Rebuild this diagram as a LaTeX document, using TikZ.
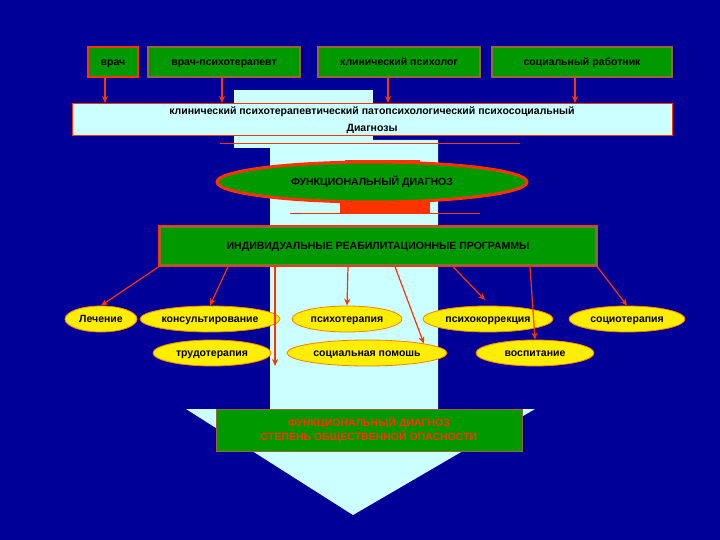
\documentclass[tikz,border=0pt]{standalone}
\usepackage{fontspec}
\setmainfont{Liberation Sans}
\usetikzlibrary{arrows.meta,shapes.geometric}
\definecolor{bg}{HTML}{000099}
\definecolor{lc}{HTML}{CCFFFF}
\definecolor{gr}{HTML}{009900}
\definecolor{rd}{HTML}{FF3300}
\definecolor{br}{HTML}{996633}
\definecolor{yl}{HTML}{FFEE00}
\newcommand{\tf}{\fontsize{10.5}{12}\selectfont\bfseries}
\begin{document}
\begin{tikzpicture}[x=1pt,y=-1pt,
 one/.style={text height=7.5pt,text depth=0pt},
 top/.style={one,draw=br,line width=1.2pt,fill=gr,font=\tf,inner sep=0pt},
 ell/.style={one,ellipse,draw=orange,fill=yl,line width=0.8pt,font=\tf,inner sep=0pt},
 arr/.style={draw=rd,line width=1.2pt,-{Stealth[length=7pt,width=6pt]}}]
\useasboundingbox (0,0) rectangle (720,540);
\fill[bg] (0,0) rectangle (720,540);
% big arrow
\fill[lc] (270,140) rectangle (438,410) (186,409) -- (535,409) -- (353,515) -- cycle;
\fill[lc] (234,90) rectangle (373,148);
% top boxes
\node[top,draw=rd,line width=2.5pt,minimum width=50pt,minimum height=30pt] (b1) at (113,62) {врач};
\node[top,minimum width=152pt,minimum height=30pt] (b2) at (224,62) {врач-психотерапевт};
\node[top,minimum width=162pt,minimum height=30pt] (b3) at (399,62) {клинический психолог};
\node[top,minimum width=180pt,minimum height=30pt] (b4) at (582,62) {социальный работник};
\node[draw=rd,fill=lc,line width=1pt,minimum width=600pt,minimum height=32pt,font=\tf,align=center,inner sep=0pt] (d) at (372,120) {клинический психотерапевтический патопсихологический психосоциальный\\[5pt]Диагнозы};
\draw[arr] (b1.south -| 105,0) -- (105,103);
\draw[arr] (b2.south -| 222,0) -- (222,103);
\draw[arr] (b3.south -| 388,0) -- (388,103);
\draw[arr] (b4.south -| 575,0) -- (575,103);
\draw[rd,line width=0.8pt] (220,143) -- (520,143);
% functional ellipse
\fill[rd] (345,160) rectangle (420,168);
\fill[rd] (340,198) rectangle (430,213);
\node[one,ellipse,draw=rd,fill=gr,line width=3pt,minimum width=310pt,minimum height=40pt,font=\tf,inner sep=0pt] (f) at (372,182) {ФУНКЦИОНАЛЬНЫЙ ДИАГНОЗ};
\draw[rd,line width=0.8pt] (290,213) -- (480,213);
% programs
\node[one,draw=br,fill=gr,line width=2.5pt,minimum width=436pt,minimum height=39pt,font=\tf,inner sep=0pt] (p) at (378,246) {ИНДИВИДУАЛЬНЫЕ РЕАБИЛИТАЦИОННЫЕ ПРОГРАММЫ};
\draw[rd,line width=0.8pt] (p.north west) rectangle (p.south east);
% ellipses
\node[ell,minimum width=72pt,minimum height=26pt] (e1) at (101,319) {Лечение};
\node[ell,minimum width=140pt,minimum height=26pt] (e2) at (210,319) {консультирование};
\node[ell,minimum width=110pt,minimum height=26pt] (e3) at (347,319) {психотерапия};
\node[ell,minimum width=130pt,minimum height=26pt] (e4) at (488,319) {психокоррекция};
\node[ell,minimum width=116pt,minimum height=26pt] (e5) at (627,319) {социотерапия};
\node[ell,minimum width=118pt,minimum height=26pt] (e6) at (212,353) {трудотерапия};
\node[ell,minimum width=160pt,minimum height=26pt] (e7) at (367,353) {социальная помошь};
\node[ell,minimum width=118pt,minimum height=26pt] (e8) at (535,353) {воспитание};
\coordinate (c1) at (275,366);
\coordinate (c2) at (485,300);
\draw[arr] (p.south west) -- (e1.north);
\draw[arr] (p.south -| 228,0) -- (e2.north);
\draw[arr] (p.south -| 275,0) -- (c1);
\draw[arr] (p.south -| 348,0) -- (e3.north);
\draw[arr] (p.south -| 395,0) -- (e7.north east);
\draw[arr] (p.south -| 453,0) -- (c2);
\draw[arr] (p.south -| 530,0) -- (e8.north);
\draw[arr] (p.south east) -- (e5.north);
% bottom
\node[draw=br,fill=gr,line width=1pt,minimum width=306pt,minimum height=42pt,font=\tf,text=rd,align=center,inner sep=0pt] (g) at (369,430) {ФУНКЦИОНАЛЬНЫЙ ДИАГНОЗ\\[2pt]СТЕПЕНЬ ОБЩЕСТВЕННОЙ ОПАСНОСТИ};
\end{tikzpicture}
\end{document}
